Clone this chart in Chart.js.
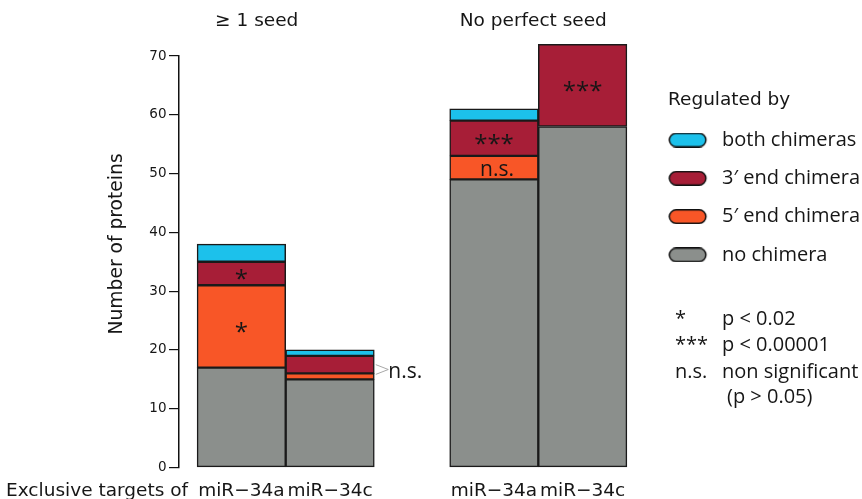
<!DOCTYPE html>
<html>
<head>
<meta charset="utf-8">
<script src="https://cdn.jsdelivr.net/npm/chart.js@4.4.1/dist/chart.umd.min.js"></script>
<style>
  body { margin: 0; background: #fff; }
</style>
</head>
<body>
<canvas id="myChart" width="862" height="499"></canvas>
<script>
// groups shown on top, miRNAs under each bar
var groups = ['≥ 1 seed', 'No perfect seed'];
var mirnas = ['miR−34a', 'miR−34c'];
var yTicks = [0, 10, 20, 30, 40, 50, 60, 70];

// one value per bar: [≥1 seed 34a, ≥1 seed 34c, no seed 34a, no seed 34c]
var noChimera = [17, 15, 49, 58];
var fivePrime = [14, 1, 4, 0];
var threePrime = [4, 3, 6, 14];
var bothChimeras = [3, 1, 2, 0];

// significance written in the segments (and beside bar 2)
var fivePrimeMarks = ['*', '', 'n.s.', ''];
var threePrimeMarks = ['*', '', '***', '***'];
var sideMarks = ['', 'n.s.', '', ''];

// p value notes under the legend
var noteSymbols = ['*', '***', 'n.s.', ''];
var noteTexts = ['p < 0.02', 'p < 0.00001', 'non significant', '(p > 0.05)'];

var seriesNames = ['no chimera', '5′ end chimera', '3′ end chimera', 'both chimeras'];
var seriesValues = [noChimera, fivePrime, threePrime, bothChimeras];
var seriesColors = ['#8b8f8c', '#f85627', '#a71e37', '#1cc1eb'];

var textColor = '#161616';

// rounded pill used as legend swatch (drawn at the left of a wider image)
function makePill(color) {
    var c = document.createElement('canvas');
    c.width = 62;
    c.height = 15;
    var p = c.getContext('2d');
    p.beginPath();
    p.moveTo(8, 0.75);
    p.lineTo(31, 0.75);
    p.arc(31, 7.5, 6.75, -Math.PI / 2, Math.PI / 2);
    p.lineTo(8, 14.25);
    p.arc(8, 7.5, 6.75, Math.PI / 2, Math.PI * 1.5);
    p.closePath();
    p.fillStyle = color;
    p.fill();
    p.lineWidth = 1.5;
    p.strokeStyle = '#111';
    p.stroke();
    return c;
}

var datasets = [];
mirnas.forEach(function (mir, m) {
    seriesNames.forEach(function (name, k) {
        datasets.push({
            label: name,
            stack: mir,
            data: groups.map(function (g, gi) {
                return { x: gi + 1, y: seriesValues[k][gi * 2 + m] };
            }),
            backgroundColor: seriesColors[k],
            borderColor: '#1a1a1a',
            borderWidth: 1.5,
            borderSkipped: false,
            barThickness: 88.6,
            clip: false
        });
    });
});

function drawMark(ctx, mark, el) {
    if (!mark) return;
    var cy = (el.y + el.base) / 2;
    if (mark === 'n.s.') {
        ctx.font = '21px "Open Sans"';
        ctx.fillText(mark, el.x + 3, cy + 8);
    } else {
        ctx.font = '24px "Open Sans"';
        ctx.fillText(mark, el.x, cy + 13.5);
    }
}

var extraText = {
    id: 'extraText',
    afterLayout: function (chart) {
        // first group centre 106.7 px right of the axis, 252.6 px between groups
        var s = chart.scales.x, unit = 252.6;
        s.min = 1 - 106.7 / unit;
        s.max = s.min + s.width / unit;
        s.configure();
    },
    afterDatasetsDraw: function (chart) {
        var ctx = chart.ctx;
        ctx.save();
        ctx.fillStyle = textColor;
        ctx.textAlign = 'center';
        for (var b = 0; b < 4; b++) {
            var m = b % 2, g = Math.floor(b / 2);
            var five = chart.getDatasetMeta(m * 4 + 1).data[g];
            var three = chart.getDatasetMeta(m * 4 + 2).data[g];
            drawMark(ctx, fivePrimeMarks[b], five);
            drawMark(ctx, threePrimeMarks[b], three);
            if (sideMarks[b]) {
                var x0 = five.x + five.width / 2 + 1.5;
                var y1 = (three.y + three.base) / 2;
                var y2 = (five.y + five.base) / 2 - 2;
                var ax = x0 + 12.5, ay = (y1 + y2) / 2;
                ctx.strokeStyle = '#a8a8a8';
                ctx.lineWidth = 1;
                ctx.beginPath();
                ctx.moveTo(x0, y1);
                ctx.lineTo(ax, ay);
                ctx.lineTo(x0, y2);
                ctx.stroke();
                ctx.textAlign = 'left';
                ctx.font = '21px "Open Sans"';
                ctx.fillText(sideMarks[b], ax, ay + 8);
                ctx.textAlign = 'center';
            }
        }
        ctx.restore();
    },
    afterDraw: function (chart) {
        var ctx = chart.ctx;
        var xs = chart.scales.x;
        ctx.save();
        ctx.fillStyle = textColor;
        ctx.font = '18.5px "DejaVu Sans"';
        ctx.textAlign = 'center';
        // group titles, the first one sits left of its pair in the figure
        var shift = [-29, -5];
        groups.forEach(function (g, i) {
            ctx.fillText(g, xs.getPixelForValue(i + 1) + shift[i], 25.5);
        });
        for (var b = 0; b < 4; b++) {
            var el = chart.getDatasetMeta((b % 2) * 4).data[Math.floor(b / 2)];
            ctx.fillText(mirnas[b % 2], el.x, 496);
        }
        ctx.textAlign = 'right';
        ctx.fillText('Exclusive targets of', 188, 496);

        // notes
        var lx = chart.legend.left;
        var base = [325, 351, 378, 403];
        ctx.textAlign = 'left';
        ctx.font = '20px "Open Sans"';
        for (var i = 0; i < noteTexts.length; i++) {
            if (noteSymbols[i]) ctx.fillText(noteSymbols[i], lx + 7, base[i]);
            ctx.fillText(noteTexts[i], lx + (noteSymbols[i] ? 54 : 59), base[i]);
        }
        ctx.restore();
    }
};

var ctx = document.getElementById('myChart');
var myChart = new Chart(ctx, {
    type: 'bar',
    data: { datasets: datasets },
    options: {
        responsive: false,
        animation: false,
        devicePixelRatio: 1,
        layout: { padding: { top: 56, bottom: 31.5, left: 0, right: 0 } },
        scales: {
            x: {
                type: 'linear',
                display: false,
                offset: false
            },
            y: {
                min: 0,
                max: 70,
                afterBuildTicks: function (s) {
                    s.ticks = yTicks.map(function (v) { return { value: v }; });
                },
                afterFit: function (s) { s.width = 179; },
                grid: { display: true, drawOnChartArea: false, drawTicks: true, tickLength: 10, color: '#111', lineWidth: 1.2 },
                border: { display: true, color: '#111', width: 1.5 },
                ticks: { padding: 2.5, color: textColor, font: { family: 'DejaVu Sans', size: 13.5 } },
                title: {
                    display: true,
                    text: '      Number of proteins',
                    color: textColor,
                    font: { family: 'DejaVu Sans', size: 18.7 },
                    padding: { top: 105.8 }
                }
            }
        },
        plugins: {
            tooltip: { enabled: false },
            legend: {
                position: 'right',
                align: 'start',
                maxWidth: 194,
                title: {
                    display: true,
                    position: 'start',
                    text: 'Regulated by',
                    color: textColor,
                    font: { family: 'DejaVu Sans', size: 18.5, lineHeight: 1 },
                    padding: { top: 34.75, bottom: 2.45 }
                },
                labels: {
                    usePointStyle: true,
                    pointStyleWidth: 25.7,
                    padding: 18.3,
                    color: textColor,
                    font: { family: 'Open Sans', size: 20 },
                    generateLabels: function () {
                        var items = [];
                        for (var k = seriesNames.length - 1; k >= 0; k--) {
                            items.push({
                                text: seriesNames[k],
                                fillStyle: seriesColors[k],
                                strokeStyle: '#111',
                                lineWidth: 1.5,
                                pointStyle: makePill(seriesColors[k]),
                                hidden: false,
                                datasetIndex: k,
                                fontColor: textColor
                            });
                        }
                        return items;
                    }
                }
            }
        }
    },
    plugins: [extraText]
});
</script>
</body>
</html>
